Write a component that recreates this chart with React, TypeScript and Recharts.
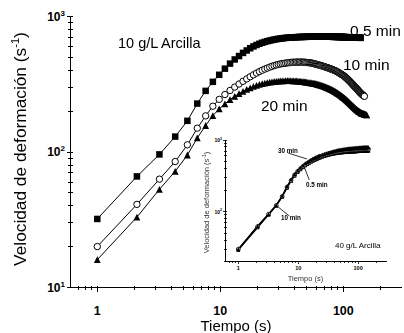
import React from "react";
import { LineChart, Line, XAxis, YAxis, ReferenceLine } from "recharts";

const FONT = "Arial, 'Liberation Sans', Helvetica, sans-serif";

// Tiempo de cada lectura (s), 10 g/L
const tiempos = [
  1, 2.1, 3.2, 4.3, 5.4, 6.5, 7.6, 8.7, 9.8, 10.9,
  12, 13.1, 14.2, 15.3, 16.4, 17.5, 18.6, 19.7, 20.8, 21.9,
  23, 24.1, 25.2, 26.3, 27.4, 28.5, 29.6, 30.7, 31.8, 32.9,
  34, 35.1, 36.2, 37.3, 38.4, 39.5, 40.6, 41.7, 42.8, 43.9,
  45, 46.1, 47.2, 48.3, 49.4, 50.5, 51.6, 52.7, 53.8, 54.9,
  56, 57.1, 58.2, 59.3, 60.4, 61.5, 62.6, 63.7, 64.8, 65.9,
  67, 68.1, 69.2, 70.3, 71.4, 72.5, 73.6, 74.7, 75.8, 76.9,
  78, 79.1, 80.2, 81.3, 82.4, 83.5, 84.6, 85.7, 86.8, 87.9,
  89, 90.1, 91.2, 92.3, 93.4, 94.5, 95.6, 96.7, 97.8, 98.9,
  100, 101.1, 102.2, 103.3, 104.4, 105.5, 106.6, 107.7, 108.8, 109.9,
  111, 112.1, 113.2, 114.3, 115.4, 116.5, 117.6, 118.7, 119.8, 120.9,
  122, 123.1, 124.2, 125.3, 126.4, 127.5, 128.6, 129.7, 130.8, 131.9,
  133, 134.1, 135.2, 136.3, 137.4, 138.5, 139.6, 140.7, 141.8, 142.9,
  144, 145.1, 146.2, 147.3, 148.4, 149.5, 150.6, 151.7, 152.8, 153.9,
  155,
];

// Velocidad de deformación (1/s) - 0.5 min
const min05 = [
  32, 66, 96, 130, 170, 228, 283, 330, 372, 413,
  450, 483, 512, 540, 563, 585, 603, 618, 631, 642,
  651, 659, 666, 672, 677, 682, 686, 689, 692, 695,
  697, 699, 701, 702, 703, 704, 705, 706, 707, 708,
  708, 709, 709, 710, 710, 710, 711, 711, 711, 711,
  712, 712, 712, 712, 712, 712, 712, 712, 712, 712,
  712, 712, 712, 712, 712, 711, 711, 711, 711, 711,
  711, 711, 711, 710, 710, 710, 710, 710, 710, 709,
  709, 709, 709, 709, 708, 708, 708, 708, 708, 707,
  707, 707, 707, 706, 706, 706, 706, 705, 705, 705,
  705, 704, 704, 704, 704, 703, 703, 703, 703, 702,
  702, 702, 702, 701, 701, 701, 701, 700, 700, 700,
  700, 699, 699, 699, 698, 698,
];

// 10 min
const min10 = [
  20, 41, 63, 85, 113, 150, 185, 218, 245, 266,
  285, 302, 318, 333, 347, 360, 372, 383, 393, 402,
  410, 417, 424, 430, 435, 440, 444, 447, 450, 452,
  454, 456, 457, 459, 460, 461, 461, 462, 462, 462,
  462, 462, 461, 461, 460, 459, 458, 457, 456, 454,
  453, 451, 449, 447, 445, 443, 441, 439, 437, 435,
  433, 431, 429, 427, 425, 423, 421, 419, 417, 415,
  413, 411, 409, 407, 405, 403, 401, 399, 397, 395,
  392, 390, 387, 385, 382, 380, 377, 375, 372, 370,
  367, 364, 362, 359, 356, 353, 350, 347, 344, 341,
  338, 335, 332, 329, 326, 323, 320, 317, 314, 311,
  308, 305, 303, 300, 298, 296, 293, 291, 288, 286,
  283, 281, 278, 276, 274, 272, 270, 268, 267, 265,
  263, 262, 261, 259, 258,
];

// 20 min
const min20 = [
  16, 33, 53, 72, 95, 127, 157, 186, 208, 227,
  244, 258, 270, 281, 290, 298, 305, 311, 316, 320,
  323, 326, 328, 330, 332, 333, 334, 335, 336, 336,
  337, 337, 337, 337, 336, 336, 335, 335, 334, 333,
  333, 332, 331, 330, 329, 328, 327, 326, 325, 324,
  323, 322, 321, 320, 318, 317, 316, 314, 313, 311,
  310, 308, 307, 305, 303, 302, 300, 298, 297, 295,
  293, 291, 290, 288, 286, 284, 282, 280, 278, 276,
  274, 272, 270, 268, 266, 264, 262, 260, 258, 256,
  254, 252, 250, 248, 246, 244, 242, 240, 238, 236,
  234, 232, 230, 228, 226, 224, 222, 220, 219, 217,
  215, 214, 212, 210, 209, 207, 206, 205, 203, 202,
  201, 200, 199, 198, 197, 196, 195, 194, 194, 193,
  193, 192, 192, 191, 191, 190, 190, 189, 189, 188,
  188,
];

// Recuadro: 40 g/L
const tiemposB = [
  1, 2.1, 3.2, 4.3, 5.4, 6.5, 7.6, 8.7, 9.8, 10.9,
  12, 13.1, 14.2, 15.3, 16.4, 17.5, 18.6, 19.7, 20.8, 21.9,
  23, 25.2, 27.4, 29.6, 31.8, 34, 36.2, 38.4, 40.6, 42.8,
  45, 47.2, 49.4, 51.6, 53.8, 56, 58.2, 60.4, 62.6, 64.8,
  67, 69.2, 71.4, 73.6, 75.8, 78, 80.2, 82.4, 84.6, 86.8,
  89, 91.2, 93.4, 95.6, 97.8, 100, 102.2, 104.4, 106.6, 108.8,
  111, 113.2, 115.4, 117.6, 119.8, 122, 124.2, 126.4, 128.6, 130.8,
  133, 135.2, 137.4, 139.6, 141.8, 144, 146.2, 148.4,
];

const b05 = [
  29, 60, 90, 120, 160, 214, 266, 316, 356, 388,
  416, 440, 460, 479, 495, 510, 523, 535, 546, 556,
  565, 581, 595, 607, 617, 626, 634, 641, 647, 652,
  657, 661, 664, 667, 670, 672, 674, 676, 678, 680,
  682, 683, 684, 685, 686, 687, 688, 689, 690, 691,
  692, 693, 694, 695, 696, 697, 697, 698, 699, 699,
  700, 700, 701, 701, 702, 702, 703, 703, 704, 704,
  705, 705, 705, 706, 706, 706, 707, 707,
];

const b10 = [
  30, 62, 92, 122, 163, 220, 272, 325, 365, 398,
  428, 453, 474, 494, 511, 527, 541, 554, 566, 577,
  587, 604, 619, 632, 643, 653, 662, 670, 677, 683,
  689, 694, 698, 702, 706, 709, 712, 715, 717, 719,
  721, 723, 725, 726, 728, 729, 730, 731, 732, 733,
  734, 735, 736, 737, 738, 739, 740, 740, 741, 742,
  742, 743, 744, 744, 745, 745, 746, 746, 747, 747,
  748, 748, 749, 749, 750, 750, 750, 751,
];

const b30 = [
  30, 63, 93, 124, 166, 226, 280, 334, 376, 410,
  442, 468, 490, 511, 529, 546, 560, 573, 585, 596,
  606, 624, 640, 654, 666, 677, 687, 696, 704, 711,
  718, 724, 729, 734, 738, 742, 746, 749, 752, 755,
  758, 760, 762, 764, 766, 768, 770, 771, 773, 774,
  776, 777, 778, 779, 780, 781, 782, 783, 784, 785,
  786, 787, 787, 788, 789, 789, 790, 790, 791, 791,
  792, 792, 793, 793, 794, 794, 795, 795,
];

const xTicks = [0.7, 0.8, 0.9, 1, 2, 3, 4, 5, 6, 7, 8, 9, 10, 20, 30, 40, 50, 60, 70, 80, 90, 100, 200];
const xMajor = [1, 10, 100];
const yTicks = [10, 20, 30, 40, 50, 60, 70, 80, 90, 100, 200, 300, 400, 500, 600, 700, 800, 900, 1000];
const yTicksB = [20, 30, 40, 50, 60, 70, 80, 90, 100, 200, 300, 400, 500, 600, 700, 800, 900, 1000];
const yMajor = [10, 100, 1000];

const datos = tiempos.map((t, i) => ({ t, a: min05[i], b: min10[i], c: min20[i] }));
const datosB = tiemposB.map((t, i) => ({ t, a: b05[i], b: b10[i], c: b30[i] }));

// geometría de los dos gráficos
const G = {
  w: 404, h: 333, top: 16.7, right: 2, left: 70, xh: 45.7,
};
const R = {
  w: 200, h: 160, top: 10, right: 3.3, left: 35, xh: 28.3,
};

// marcadores
const cuadrado = (s: number) => (p: any) =>
  p.cy == null ? <g key={p.index} /> : <rect key={p.index} x={p.cx - s / 2} y={p.cy - s / 2} width={s} height={s} fill="#000" />;
const circulo = (r: number, w: number) => (p: any) =>
  p.cy == null ? <g key={p.index} /> : <circle key={p.index} cx={p.cx} cy={p.cy} r={r} fill="#fff" stroke="#000" strokeWidth={w} />;
const triangulo = (s: number) => (p: any) =>
  p.cy == null ? (
    <g key={p.index} />
  ) : (
    <path key={p.index} d={`M${p.cx},${p.cy - s / 2}L${p.cx + s / 2},${p.cy + s / 2}L${p.cx - s / 2},${p.cy + s / 2}Z`} fill="#000" />
  );

const eje = { stroke: "#000", shapeRendering: "crispEdges" };

// marcas del eje X: la línea del eje está en la base del área de trazado
const makeXTick = (axisY: number, big: boolean) => (props: any) => {
  const { x, payload } = props;
  const major = xMajor.includes(payload.value);
  const k = big ? 1 : 0.55;
  return (
    <g>
      <line x1={x} x2={x} y1={axisY - 1.5 * k} y2={axisY + (major ? 5 : 3) * k} stroke="#000" strokeWidth={big ? 1 : 0.8} shapeRendering="crispEdges" />
      {major && (
        <text
          x={x}
          y={axisY + (big ? 27.2 : 8)}
          textAnchor="middle"
          fontFamily={FONT}
          fontWeight="bold"
          fontSize={big ? 12.5 : 5.5}
          fill="#000"
        >
          {payload.value}
        </text>
      )}
    </g>
  );
};

const makeYTick = (axisX: number, big: boolean) => (props: any) => {
  const { y, payload } = props;
  const v = payload.value;
  const major = yMajor.includes(v);
  const k = big ? 1 : 0.55;
  return (
    <g>
      <line x1={axisX - (major ? 3.5 : 2) * k} x2={axisX + 3 * k} y1={y} y2={y} stroke="#000" strokeWidth={big ? 1 : 0.8} shapeRendering="crispEdges" />
      {major && (
        <text
          x={axisX - (big ? 5 : 3)}
          y={y + (big ? 4.3 : 2)}
          textAnchor="end"
          fontFamily={FONT}
          fontWeight="bold"
          fontSize={big ? 12 : 5}
          fill="#000"
        >
          10
          <tspan dy={big ? -5 : -2.2} fontSize={big ? 8 : 3.5}>
            {Math.round(Math.log10(v))}
          </tspan>
        </text>
      )}
    </g>
  );
};

function Principal() {
  return (
    <LineChart width={G.w} height={G.h} data={datos} margin={{ top: G.top, right: G.right, bottom: 0, left: 0 }}>
      <XAxis
        dataKey="t"
        type="number"
        scale="log"
        domain={[0.6, 300]}
        allowDataOverflow
        ticks={xTicks}
        interval={0}
        tick={makeXTick(G.h - G.xh, true)}
        tickLine={false}
        tickSize={0}
        tickMargin={0}
        height={G.xh}
        axisLine={eje}
      />
      <XAxis xAxisId="top" orientation="top" dataKey="t" type="number" scale="log" domain={[0.6, 300]} allowDataOverflow tick={false} tickLine={false} height={0} axisLine={eje} />
      <YAxis
        type="number"
        scale="log"
        domain={[10, 1000]}
        allowDataOverflow
        ticks={yTicks}
        interval={0}
        tick={makeYTick(G.left, true)}
        tickLine={false}
        tickSize={0}
        tickMargin={0}
        width={G.left}
        axisLine={eje}
      />
      <YAxis yAxisId="right" orientation="right" type="number" scale="log" domain={[10, 1000]} allowDataOverflow tick={false} tickLine={false} width={0} axisLine={eje} />
      <Line dataKey="a" type="linear" stroke="#000" strokeWidth={1} dot={cuadrado(6.5)} activeDot={false} isAnimationActive={false} />
      <Line dataKey="b" type="linear" stroke="#000" strokeWidth={1} dot={circulo(3.2, 1)} activeDot={false} isAnimationActive={false} />
      <Line dataKey="c" type="linear" stroke="#000" strokeWidth={1} dot={triangulo(6.8)} activeDot={false} isAnimationActive={false} />
    </LineChart>
  );
}

function Recuadro() {
  return (
    <LineChart width={R.w} height={R.h} data={datosB} margin={{ top: R.top, right: R.right, bottom: 0, left: 0 }}>
      <XAxis
        dataKey="t"
        type="number"
        scale="log"
        domain={[0.6, 300]}
        allowDataOverflow
        ticks={xTicks}
        interval={0}
        tick={makeXTick(R.h - R.xh, false)}
        tickLine={false}
        tickSize={0}
        tickMargin={0}
        height={R.xh}
        axisLine={eje}
      />
      <XAxis xAxisId="top" orientation="top" dataKey="t" type="number" scale="log" domain={[0.6, 300]} allowDataOverflow tick={false} tickLine={false} height={0} axisLine={eje} />
      <YAxis
        type="number"
        scale="log"
        domain={[20, 1000]}
        allowDataOverflow
        ticks={yTicksB}
        interval={0}
        tick={makeYTick(R.left, false)}
        tickLine={false}
        tickSize={0}
        tickMargin={0}
        width={R.left}
        axisLine={eje}
      />
      <YAxis yAxisId="right" orientation="right" type="number" scale="log" domain={[20, 1000]} allowDataOverflow tick={false} tickLine={false} width={0} axisLine={eje} />
      <Line dataKey="a" type="linear" stroke="#000" strokeWidth={1.2} dot={cuadrado(3.6)} activeDot={false} isAnimationActive={false} />
      <Line dataKey="b" type="linear" stroke="#000" strokeWidth={1.2} dot={circulo(1.9, 0.8)} activeDot={false} isAnimationActive={false} />
      <Line dataKey="c" type="linear" stroke="#000" strokeWidth={1.2} dot={triangulo(4)} activeDot={false} isAnimationActive={false} />
      <ReferenceLine segment={[{ x: 6.8, y: 658 }, { x: 14, y: 543 }]} stroke="#000" strokeWidth={0.8} />
      <ReferenceLine segment={[{ x: 12.6, y: 424 }, { x: 15.3, y: 276 }]} stroke="#000" strokeWidth={0.8} />
      <ReferenceLine segment={[{ x: 4.1, y: 126 }, { x: 7.1, y: 87 }]} stroke="#000" strokeWidth={0.8} />
    </LineChart>
  );
}

export default function App() {
  const t = { fontFamily: FONT, fill: "#000" };
  return (
    <div style={{ position: "absolute", left: 0, top: 0, width: 404, height: 333, background: "#fff" }}>
      <div style={{ position: "absolute", left: 0, top: 0 }}>
        <Principal />
      </div>
      <div style={{ position: "absolute", left: 190, top: 130 }}>
        <Recuadro />
      </div>
      <svg width={404} height={333} style={{ position: "absolute", left: 0, top: 0, pointerEvents: "none", willChange: "transform" }}>
        <text {...t} x={118} y={48} fontSize={14.5}>10 g/L Arcilla</text>
        <text {...t} x={350} y={35.5} fontSize={15.5}>0.5 min</text>
        <text {...t} x={343} y={70} fontSize={15.5}>10 min</text>
        <text {...t} x={261} y={111} fontSize={15.5}>20 min</text>
        <text {...t} x={236} y={331} fontSize={15} textAnchor="middle">Tiempo (s)</text>
        <text {...t} transform="translate(25.5,149) rotate(-90)" fontSize={17.3} textAnchor="middle">
          Velocidad de deformación (s<tspan dy={-6.5} fontSize={11.2}>-1</tspan>
          <tspan dy={6.5} fontSize={17.3}>)</tspan>
        </text>
        <text {...t} x={335} y={248} fontSize={8}>40 g/L Arcilla</text>
        <text {...t} x={305.5} y={281} fontSize={7.5} fill="#333" textAnchor="middle">Tiempo (s)</text>
        <text {...t} transform="translate(208.5,202.5) rotate(-90)" fontSize={7.5} fill="#333" textAnchor="middle">
          Velocidad de deformación (s<tspan dy={-2.5} fontSize={5}>-1</tspan>
          <tspan dy={2.5} fontSize={7.5}>)</tspan>
        </text>
        <text {...t} x={278} y={153} fontSize={6.3} fontWeight="bold">30 min</text>
        <text {...t} x={306} y={187} fontSize={6.3} fontWeight="bold">0.5 min</text>
        <text {...t} x={281} y={219.5} fontSize={6.3} fontWeight="bold">10 min</text>
      </svg>
    </div>
  );
}
